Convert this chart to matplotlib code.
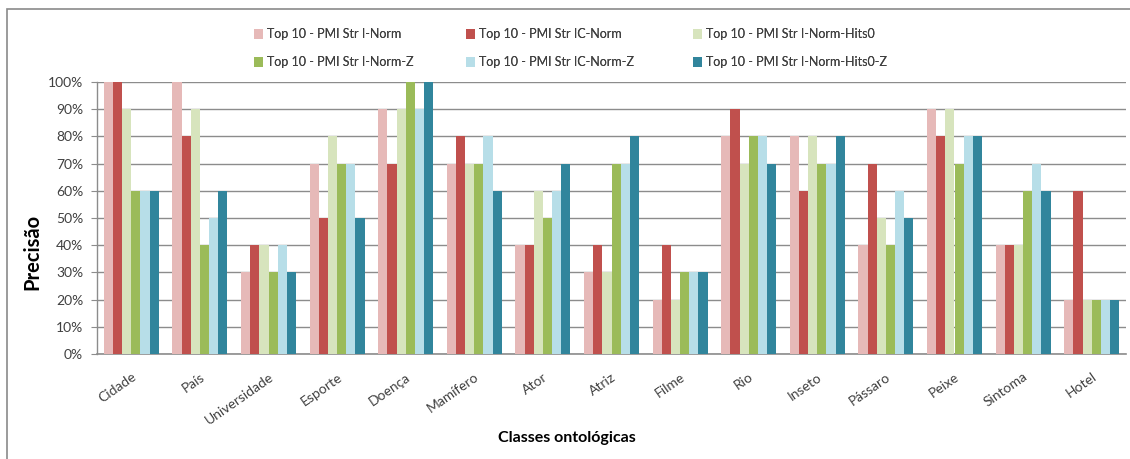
import numpy as np
import matplotlib
matplotlib.use("Agg")
import matplotlib.pyplot as plt
from matplotlib.patches import Rectangle
from matplotlib.ticker import PercentFormatter

categories = ["Cidade", "País", "Universidade", "Esporte", "Doença", "Mamífero",
              "Ator", "Atriz", "Filme", "Rio", "Inseto", "Pássaro", "Peixe",
              "Sintoma", "Hotel"]

series_names = [
    "Top 10 - PMI Str I-Norm",
    "Top 10 - PMI Str IC-Norm",
    "Top 10 - PMI Str I-Norm-Hits0",
    "Top 10 - PMI Str I-Norm-Z",
    "Top 10 - PMI Str IC-Norm-Z",
    "Top 10 - PMI Str I-Norm-Hits0-Z",
]

i_norm        = [100, 100, 30, 70, 90, 70, 40, 30, 20, 80, 80, 40, 90, 40, 20]
ic_norm       = [100, 80, 40, 50, 70, 80, 40, 40, 40, 90, 60, 70, 80, 40, 60]
i_norm_hits0  = [90, 90, 40, 80, 90, 70, 60, 30, 20, 70, 80, 50, 90, 40, 20]
i_norm_z      = [60, 40, 30, 70, 100, 70, 50, 70, 30, 80, 70, 40, 70, 60, 20]
ic_norm_z     = [60, 50, 40, 70, 90, 80, 60, 70, 30, 80, 70, 60, 80, 70, 20]
i_norm_hits0_z = [60, 60, 30, 50, 100, 60, 70, 80, 30, 70, 80, 50, 80, 60, 20]

series_values = [i_norm, ic_norm, i_norm_hits0, i_norm_z, ic_norm_z, i_norm_hits0_z]
colors = ["#E6B9B8", "#C0504D", "#D7E4BD", "#9BBB59", "#B7DEE8", "#31859C"]

plt.rcParams["font.family"] = ["Lato", "DejaVu Sans"]
text_color = "#404040"
W, H = 1130, 459

fig = plt.figure(figsize=(W / 100, H / 100), dpi=100)
ax = fig.add_axes([97 / W, 105 / H, 1029 / W, 272 / H])

# outer chart frame (left and top edges visible)
fig.patches.append(Rectangle((7 / W, -0.1), 1.2, (H - 9) / H + 0.1,
                             transform=fig.transFigure, fill=False,
                             edgecolor="#8a8a8a", linewidth=1.2, zorder=0))

x = np.arange(len(categories))
n = len(series_values)
group_w = 0.8
bar_w = group_w / n
handles = []
for i, (vals, name, col) in enumerate(zip(series_values, series_names, colors)):
    offs = -group_w / 2 + bar_w * (i + 0.5)
    h = ax.bar(x + offs, np.array(vals) / 100.0, width=bar_w, color=col,
               label=name, zorder=3, linewidth=0)
    handles.append(h)

ax.set_xlim(-0.5, len(categories) - 0.5)
ax.set_ylim(0, 1.0)
ax.set_yticks(np.linspace(0, 1, 11))
ax.yaxis.set_major_formatter(PercentFormatter(1.0, decimals=0))
ax.grid(axis="y", color="#8c8c8c", linewidth=1.0, zorder=0)
ax.set_axisbelow(True)

for side in ["top", "right"]:
    ax.spines[side].set_visible(False)
ax.spines["left"].set_color("#8c8c8c")
ax.spines["bottom"].set_color("#8c8c8c")
ax.spines["left"].set_linewidth(1.0)
ax.spines["bottom"].set_linewidth(1.2)

ax.tick_params(axis="y", length=4, color="#8c8c8c", labelsize=10, labelcolor=text_color, pad=6)
ax.tick_params(axis="x", length=0, labelsize=10, labelcolor=text_color, pad=12)
ax.set_xticks(x)
ax.set_xticklabels(categories, rotation=35, ha="right", rotation_mode="anchor")

fig.text(32 / W, 1 - 252 / H, "Precisão", fontsize=14.5, fontweight="bold",
         color="black", ha="center", va="center", rotation=90)
fig.text(567 / W, 1 - 438 / H, "Classes ontológicas", fontsize=11.5, fontweight="bold",
         color="black", ha="center", va="center")

# legend: three columns of two entries each
col_x = [254, 466, 693]
for c in range(3):
    hs = [handles[c], handles[c + 3]]
    ls = [series_names[c], series_names[c + 3]]
    leg = fig.legend(hs, ls, loc="upper left",
                     bbox_to_anchor=(col_x[c] / W, 1 - 28 / H),
                     frameon=False, fontsize=9, handlelength=0.7, handleheight=0.9,
                     handletextpad=0.35, labelspacing=1.3, borderaxespad=0,
                     borderpad=0, labelcolor=text_color)
    fig.add_artist(leg)

fig.savefig("out.png", dpi=100)
